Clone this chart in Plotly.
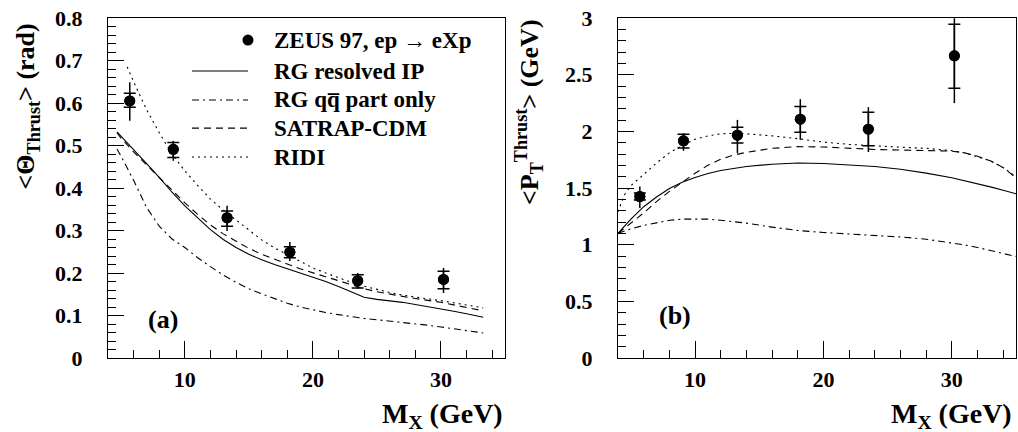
import plotly.graph_objects as go

# ---------------- data ----------------
# ZEUS 97 data points (both panels)
zeus_mx = [5.7, 9.1, 13.3, 18.2, 23.5, 30.2]

theta_val = [0.605, 0.491, 0.330, 0.249, 0.182, 0.185]
theta_stat_up = [0.018, 0.016, 0.016, 0.013, 0.014, 0.019]
theta_stat_dn = [0.015, 0.019, 0.020, 0.013, 0.017, 0.022]
theta_tot_up = [0.044, 0.020, 0.028, 0.024, 0.018, 0.027]
theta_tot_dn = [0.047, 0.027, 0.031, 0.021, 0.019, 0.032]

pt_val = [1.425, 1.916, 1.966, 2.107, 2.019, 2.666]
pt_stat_up = [0.030, 0.059, 0.071, 0.112, 0.150, 0.279]
pt_stat_dn = [0.030, 0.064, 0.070, 0.114, 0.147, 0.285]
pt_tot_up = [0.088, 0.068, 0.135, 0.177, 0.194, 0.332]
pt_tot_dn = [0.102, 0.088, 0.158, 0.182, 0.202, 0.417]

# model curves, panel (a): <Theta_Thrust>
a_mx = [4.7, 5, 6, 7, 8, 9, 10, 11, 12, 13, 14, 15, 16, 17, 18, 19, 20,
        21, 22, 23, 24, 25, 26, 27, 28, 29, 30, 31, 32, 33.3]
a_rg_resolved = [0.532, 0.522, 0.490, 0.458, 0.425, 0.390, 0.358, 0.329, 0.302,
                 0.279, 0.260, 0.244, 0.231, 0.220, 0.210, 0.200, 0.190, 0.180,
                 0.168, 0.155, 0.143, 0.138, 0.135, 0.131, 0.126, 0.121, 0.116,
                 0.110, 0.104, 0.096]
a_rg_qq = [0.492, 0.476, 0.418, 0.355, 0.310, 0.280, 0.260, 0.236, 0.215, 0.195,
           0.178, 0.163, 0.151, 0.140, 0.129, 0.120, 0.113, 0.107, 0.102, 0.097,
           0.093, 0.090, 0.087, 0.084, 0.080, 0.077, 0.073, 0.069, 0.064, 0.059]
a_satrap = [0.530, 0.518, 0.485, 0.455, 0.425, 0.395, 0.365, 0.338, 0.313, 0.292,
            0.274, 0.258, 0.244, 0.232, 0.221, 0.210, 0.200, 0.191, 0.182, 0.172,
            0.163, 0.156, 0.150, 0.145, 0.140, 0.136, 0.131, 0.125, 0.119, 0.111]
a_ridi_mx = [5.5, 6, 7, 8, 9, 10, 11, 12, 13, 14, 15, 16, 17, 18, 19, 20, 21, 22,
             23, 24, 25, 26, 27, 28, 29, 30, 31, 32, 33.3]
a_ridi = [0.685, 0.650, 0.585, 0.530, 0.480, 0.440, 0.406, 0.374, 0.348, 0.324,
          0.300, 0.278, 0.259, 0.243, 0.226, 0.212, 0.200, 0.189, 0.178, 0.169,
          0.161, 0.154, 0.148, 0.143, 0.139, 0.135, 0.130, 0.125, 0.118]

# model curves, panel (b): <P_T^Thrust>
b_mx = [4, 4.5, 5, 6, 7, 8, 9, 10, 11, 12, 13, 14, 16, 18, 20, 22, 24, 26, 28,
        30, 31, 32, 33, 34, 35]
b_rg_resolved = [1.100, 1.165, 1.225, 1.335, 1.420, 1.495, 1.550, 1.592, 1.628,
                 1.655, 1.675, 1.690, 1.710, 1.720, 1.716, 1.705, 1.690, 1.665,
                 1.631, 1.590, 1.565, 1.540, 1.510, 1.480, 1.449]
b_rg_qq = [1.100, 1.120, 1.140, 1.170, 1.195, 1.215, 1.225, 1.228, 1.225, 1.215,
           1.203, 1.190, 1.155, 1.125, 1.108, 1.095, 1.083, 1.068, 1.048, 1.018,
           0.998, 0.975, 0.950, 0.925, 0.896]
b_satrap = [1.100, 1.145, 1.190, 1.280, 1.380, 1.470, 1.550, 1.630, 1.700, 1.755,
            1.790, 1.815, 1.850, 1.865, 1.862, 1.850, 1.840, 1.835, 1.832, 1.825,
            1.810, 1.780, 1.740, 1.680, 1.590]
b_ridi = [1.290, 1.440, 1.520, 1.620, 1.720, 1.810, 1.875, 1.930, 1.960, 1.978,
          1.982, 1.978, 1.960, 1.935, 1.905, 1.885, 1.870, 1.860, 1.850, 1.830,
          1.810, 1.775, 1.740, 1.680, 1.600]

legend_labels = ["ZEUS 97, ep \u2192 eXp", "RG resolved IP",
                 "RG qq\u0305 part only", "SATRAP-CDM", "RIDI"]

x_tickvals = [10, 20, 30]
a_tickvals = [0, 0.1, 0.2, 0.3, 0.4, 0.5, 0.6, 0.7, 0.8]
a_ticktext = ["0", "0.1", "0.2", "0.3", "0.4", "0.5", "0.6", "0.7", "0.8"]
b_tickvals = [0, 0.5, 1, 1.5, 2, 2.5, 3]
b_ticktext = ["0", "0.5", "1", "1.5", "2", "2.5", "3"]

# ---------------- styles ----------------
FONT = "Liberation Serif, Times New Roman, Times, serif"
BLACK = "#000000"
DASH_SOLID = "solid"
DASH_DASHDOT = "7px,4px,2px,4px"
DASH_DASHED = "7px,5px"
DASH_DOTTED = "2px,4px"
LW = 1.1

fig = go.Figure()


def add_panel(xa, ya, mx_list, val, s_up, s_dn, t_up, t_dn, curves):
    for (cx, cy, dash) in curves:
        fig.add_trace(go.Scatter(x=cx, y=cy, mode="lines", xaxis=xa, yaxis=ya,
                                 line=dict(color=BLACK, width=LW, dash=dash),
                                 showlegend=False, hoverinfo="skip"))
    # total errors (no caps)
    fig.add_trace(go.Scatter(x=mx_list, y=val, mode="markers", xaxis=xa, yaxis=ya,
                             marker=dict(size=11, color=BLACK),
                             error_y=dict(type="data", symmetric=False, array=t_up,
                                          arrayminus=t_dn, width=0, thickness=1.5,
                                          color=BLACK),
                             showlegend=False))
    # statistical errors (caps)
    fig.add_trace(go.Scatter(x=mx_list, y=val, mode="markers", xaxis=xa, yaxis=ya,
                             marker=dict(size=11, color=BLACK),
                             error_y=dict(type="data", symmetric=False, array=s_up,
                                          arrayminus=s_dn, width=6, thickness=1.5,
                                          color=BLACK),
                             showlegend=False))


add_panel("x", "y", zeus_mx, theta_val, theta_stat_up, theta_stat_dn,
          theta_tot_up, theta_tot_dn,
          [(a_mx, a_rg_resolved, DASH_SOLID), (a_mx, a_rg_qq, DASH_DASHDOT),
           (a_mx, a_satrap, DASH_DASHED), (a_ridi_mx, a_ridi, DASH_DOTTED)])
add_panel("x2", "y2", zeus_mx, pt_val, pt_stat_up, pt_stat_dn,
          pt_tot_up, pt_tot_dn,
          [(b_mx, b_rg_resolved, DASH_SOLID), (b_mx, b_rg_qq, DASH_DASHDOT),
           (b_mx, b_satrap, DASH_DASHED), (b_mx, b_ridi, DASH_DOTTED)])

tickfont = dict(family=FONT, size=22, color=BLACK, weight="bold")
common_x = dict(range=[4, 35], tickvals=x_tickvals, ticks="inside", ticklen=17,
                tickwidth=1, tickcolor=BLACK, showline=True, linecolor=BLACK,
                linewidth=1, mirror=True, showgrid=False, zeroline=False,
                tickfont=tickfont, ticklabelstandoff=2,
                minor=dict(ticks="inside", ticklen=8, dtick=2, tick0=0,
                           tickcolor=BLACK, tickwidth=1, showgrid=False))
common_y = dict(ticks="inside", ticklen=16, tickwidth=1, tickcolor=BLACK,
                showline=True, linecolor=BLACK, linewidth=1, mirror=True,
                showgrid=False, zeroline=False, tickfont=tickfont,
                ticklabelstandoff=20)

fig.update_layout(
    width=1018, height=432,
    margin=dict(l=108, r=2, t=18, b=74),
    paper_bgcolor="white", plot_bgcolor="white",
    font=dict(family=FONT, color=BLACK, weight="bold"),
    showlegend=False,
    xaxis=dict(domain=[0, 0.4372], anchor="y", **common_x),
    xaxis2=dict(domain=[0.5617, 1.0], anchor="y2", **common_x),
    yaxis=dict(domain=[0, 1], anchor="x", range=[0, 0.8], tickvals=a_tickvals,
               ticktext=a_ticktext,
               minor=dict(ticks="inside", ticklen=8, dtick=0.02, tick0=0,
                          tickcolor=BLACK, tickwidth=1, showgrid=False),
               **common_y),
    yaxis2=dict(domain=[0, 1], anchor="x2", range=[0, 3], tickvals=b_tickvals,
                ticktext=b_ticktext,
                minor=dict(ticks="inside", ticklen=8, dtick=0.1, tick0=0,
                           tickcolor=BLACK, tickwidth=1, showgrid=False),
                **common_y),
)

# ---------------- legend (drawn in panel a) ----------------
leg_line_x0, leg_line_x1, leg_text_x = 0.2116, 0.3526, 0.413
leg_rows = [0.935, 0.844, 0.759, 0.676, 0.591]
leg_dashes = [None, DASH_SOLID, DASH_DASHDOT, DASH_DASHED, DASH_DOTTED]
shapes = []
annotations = []
for lbl, ry, dsh in zip(legend_labels, leg_rows, leg_dashes):
    if dsh is None:
        shapes.append(dict(type="circle", xref="x domain", yref="y domain",
                           xsizemode="pixel", ysizemode="pixel",
                           xanchor=leg_line_x1, yanchor=ry,
                           x0=-5.5, x1=5.5, y0=-5.5, y1=5.5,
                           fillcolor=BLACK, line=dict(color=BLACK, width=0)))
    else:
        shapes.append(dict(type="line", xref="x domain", yref="y domain",
                           x0=leg_line_x0, x1=leg_line_x1, y0=ry, y1=ry,
                           line=dict(color=BLACK, width=LW, dash=dsh)))
    annotations.append(dict(text=lbl, xref="x domain", yref="y domain",
                            x=leg_text_x, y=ry, xanchor="left", yanchor="middle",
                            showarrow=False,
                            font=dict(family=FONT, size=23, color=BLACK,
                                      weight="bold")))

title_font = dict(family=FONT, size=26, color=BLACK, weight="bold")
annotations += [
    dict(text="&lt;\u0398<sub>Thrust</sub>&gt; (rad)", xref="paper", yref="paper",
         x=-0.0887, y=0.741, textangle=-90, showarrow=False,
         xanchor="center", yanchor="middle", font=title_font),
    dict(text="&lt;P<sub>T</sub><sup>Thrust</sup>&gt; (GeV)", xref="paper",
         yref="paper", x=0.4637, y=0.7235, textangle=-90, showarrow=False,
         xanchor="center", yanchor="middle", font=title_font),
    dict(text="M<sub>X</sub> (GeV)", xref="x domain", yref="y domain", x=1.0,
         y=-0.112, xanchor="right", yanchor="top", showarrow=False,
         font=dict(family=FONT, size=28, color=BLACK, weight="bold")),
    dict(text="M<sub>X</sub> (GeV)", xref="x2 domain", yref="y2 domain", x=0.995,
         y=-0.112, xanchor="right", yanchor="top", showarrow=False,
         font=dict(family=FONT, size=28, color=BLACK, weight="bold")),
    dict(text="(a)", xref="x domain", yref="y domain", x=0.139, y=0.112,
         xanchor="center", yanchor="middle", showarrow=False,
         font=dict(family=FONT, size=26, color=BLACK, weight="bold")),
    dict(text="(b)", xref="x2 domain", yref="y2 domain", x=0.142, y=0.124,
         xanchor="center", yanchor="middle", showarrow=False,
         font=dict(family=FONT, size=26, color=BLACK, weight="bold")),
]
fig.update_layout(shapes=shapes, annotations=annotations)

fig.write_html("out.html", config={"displayModeBar": False},
               post_script="document.body.style.margin='0';"
                           "document.body.style.overflow='hidden';")
